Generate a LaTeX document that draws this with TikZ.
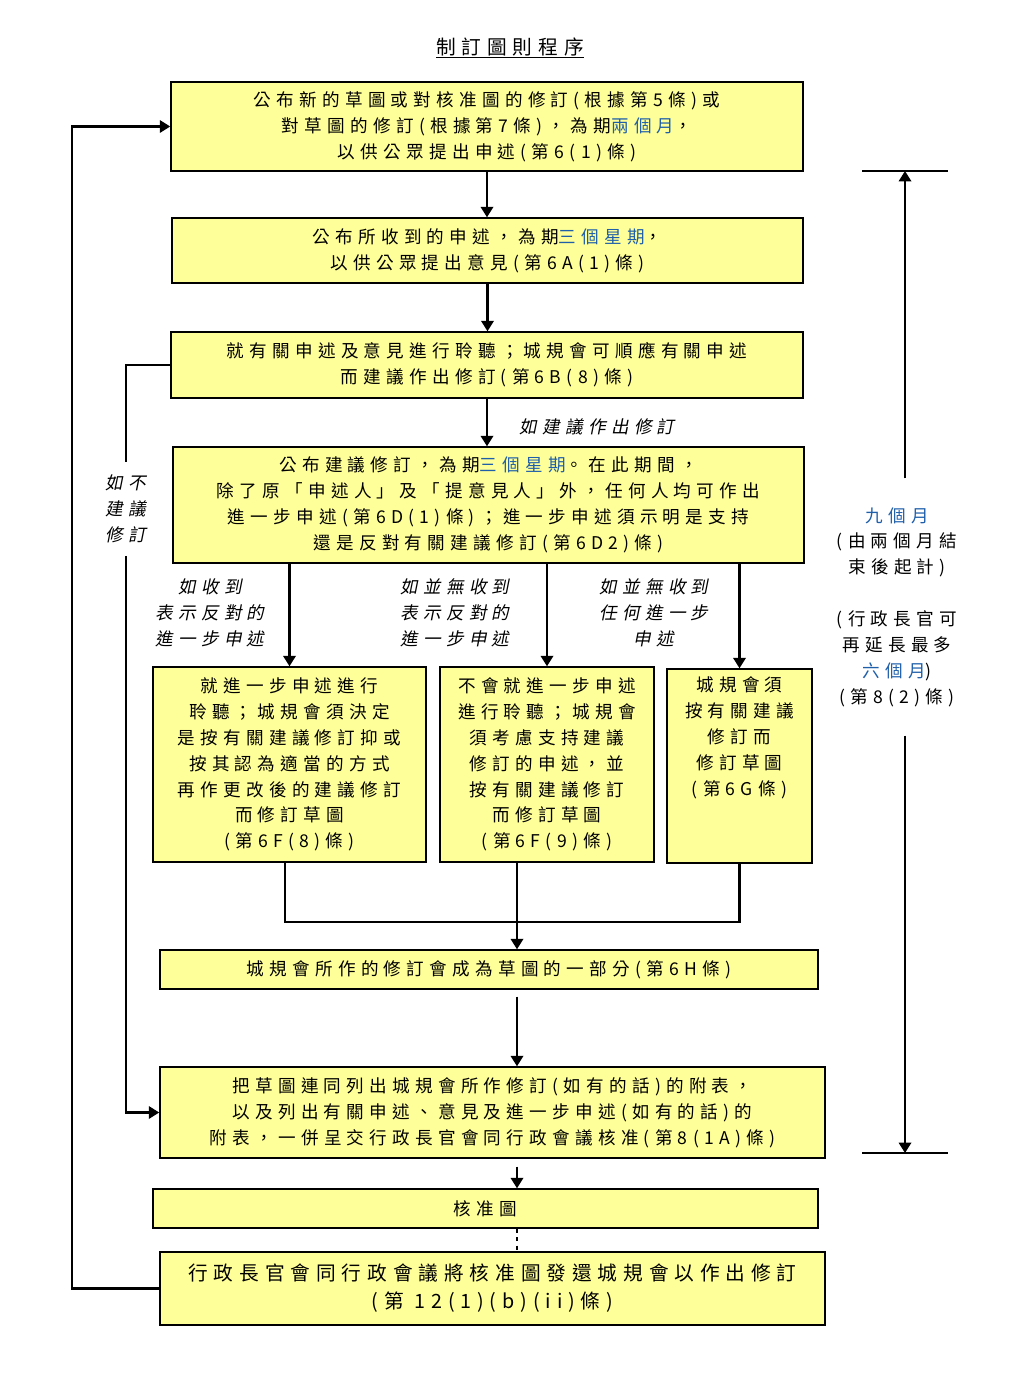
\documentclass[tikz,border=0pt]{standalone}
\usepackage{fontspec}
\setmainfont{Noto Sans CJK TC}[LetterSpace=30]
\newfontfamily\slantcjk{Noto Sans CJK TC}[FakeSlant=0.2, LetterSpace=30]
\usetikzlibrary{positioning, arrows.meta, calc}

\definecolor{boxyellow}{RGB}{255,255,153}
\definecolor{hlblue}{RGB}{31,95,170}
\newcommand{\hl}[1]{\textcolor{hlblue}{#1}}

\begin{document}
\begin{tikzpicture}[
    x=0.025cm, y=-0.025cm,  % 以像素為單位
    line width=1.5pt,
    >={Triangle[length=2.6mm, width=3.1mm]},
    font=\fontsize{12.5}{18.4}\selectfont,
    box/.style={draw, line width=1pt, fill=boxyellow, align=center, inner sep=0pt},
    note/.style={align=center, font=\fontsize{12.5}{18.4}\selectfont\slantcjk}
]
    \useasboundingbox (0,0) rectangle (1024,1374);

    % --- 1. 標題 ---
    \node [font=\fontsize{14}{18}\selectfont] (title) at (510,48) {\underline{制訂圖則程序}};

    % --- 2. 主要方框 ---
    \node [box, minimum width=15.8cm, minimum height=2.225cm] (pub) at (487,126.5)
        {公布新的草圖或對核准圖的修訂(根據第5條)或\\
         對草圖的修訂(根據第7條)，為期\hl{兩個月}，\\
         以供公眾提出申述(第6(1)條)};
    \node [box, minimum width=15.775cm, minimum height=1.625cm] (cmt) at (487.5,250.5)
        {公布所收到的申述，為期\hl{三個星期}，\\
         以供公眾提出意見(第6A(1)條)};
    \node [box, minimum width=15.8cm, minimum height=1.65cm] (hear) at (487,365)
        {就有關申述及意見進行聆聽；城規會可順應有關申述\\
         而建議作出修訂(第6B(8)條)};
    \node [box, minimum width=15.775cm, minimum height=2.9cm] (prop) at (488.5,505)
        {公布建議修訂，為期\hl{三個星期}。在此期間，\\
         除了原「申述人」及「提意見人」外，任何人均可作出\\
         進一步申述(第6D(1)條)；進一步申述須示明是支持\\
         還是反對有關建議修訂(第6D2)條)};

    % 三個分支
    \node [box, minimum width=6.825cm, minimum height=4.875cm] (fa) at (289.5,764.5)
        {就進一步申述進行\\聆聽；城規會須決定\\是按有關建議修訂抑或\\按其認為適當的方式\\
         再作更改後的建議修訂\\而修訂草圖\\(第6F(8)條)};
    \node [box, minimum width=5.35cm, minimum height=4.875cm] (fb) at (547,764.5)
        {不會就進一步申述\\進行聆聽；城規會\\須考慮支持建議\\修訂的申述，並\\
         按有關建議修訂\\而修訂草圖\\(第6F(9)條)};
    \node [box, minimum width=3.625cm, minimum height=4.85cm] (fc) at (739.5,766)
        {城規會須\\按有關建議\\修訂而\\修訂草圖\\(第6G條)\\ \strut\\ \strut};

    \node [box, minimum width=16.45cm, minimum height=0.975cm] (part) at (489,969.5)
        {城規會所作的修訂會成為草圖的一部分(第6H條)};
    \node [box, minimum width=16.625cm, minimum height=2.275cm] (submit) at (492.5,1112.5)
        {把草圖連同列出城規會所作修訂(如有的話)的附表，\\
         以及列出有關申述、意見及進一步申述(如有的話)的\\
         附表，一併呈交行政長官會同行政會議核准(第8(1A)條)};
    \node [box, minimum width=16.625cm, minimum height=0.975cm] (approved) at (485.5,1208.5)
        {核准圖};
    \node [box, minimum width=16.625cm, minimum height=1.825cm,
           font=\fontsize{14}{20}\selectfont] (refer) at (492.5,1288.5)
        {行政長官會同行政會議將核准圖發還城規會以作出修訂\\
         (第 12(1)(b)(ii)條)};

    % --- 3. 斜體說明 ---
    \node [note, anchor=west] (ifyes) at (514,427) {如建議作出修訂};
    \node [note] (ifobj) at (210,613) {如收到\\表示反對的\\進一步申述};
    \node [note] (ifnoobj) at (455,613) {如並無收到\\表示反對的\\進一步申述};
    \node [note] (ifnone) at (654,613) {如並無收到\\任何進一步\\申述};
    \node [note, inner ysep=0.3cm] (ifno) at (126,509) {如不\\建議\\修訂};

    % --- 4. 連接線 ---
    \coordinate (join) at (517,922);
    \draw [->] (pub.south) -- (pub.south |- cmt.north);
    \draw [->] (cmt.south) -- (cmt.south |- hear.north);
    \draw [->] (hear.south) -- (hear.south |- prop.north);

    \draw [->] (prop.south -| fa.north) -- (fa.north);
    \draw [->] (prop.south -| fb.north) -- (fb.north);
    \draw [->] (prop.south -| fc.north) -- (fc.north);

    \draw ([xshift=-0.11cm]fa.south) |- (join);
    \draw (fc.south) |- (join);
    \draw [->] (fb.south -| join) -- (join |- part.north);
    \draw [->, shorten <=0.17cm] (part.south -| join) -- (join |- submit.north);
    \draw [->, shorten <=0.2cm] (submit.south -| join) -- (join |- approved.north);
    \draw [dashed] (approved.south -| join) -- (join |- refer.north);

    % 左側回路
    \draw [->] (refer.west) -- ++(-87,0) |- (pub.west);
    \draw (hear.west) -| (ifno.north);
    \draw [->] (ifno.south) |- (submit.west);

    % --- 5. 右側時限 ---
    \coordinate (top) at (905,171);
    \coordinate (bot) at (905,1153);
    \draw [line width=1.1pt] ($(top)+(-43,0)$) -- ($(top)+(43,0)$);
    \draw [line width=1.1pt] ($(bot)+(-43,0)$) -- ($(bot)+(43,0)$);
    \node [align=center, inner ysep=0.7cm] (nine) at (897,607)
        {\hl{九個月}\\(由兩個月結\\束後起計)\\ \strut\\(行政長官可\\再延長最多\\\hl{六個月})\\(第8(2)條)};
    \draw [->] (nine.north -| top) -- (top);
    \draw [->] (nine.south -| bot) -- (bot);

\end{tikzpicture}
\end{document}
